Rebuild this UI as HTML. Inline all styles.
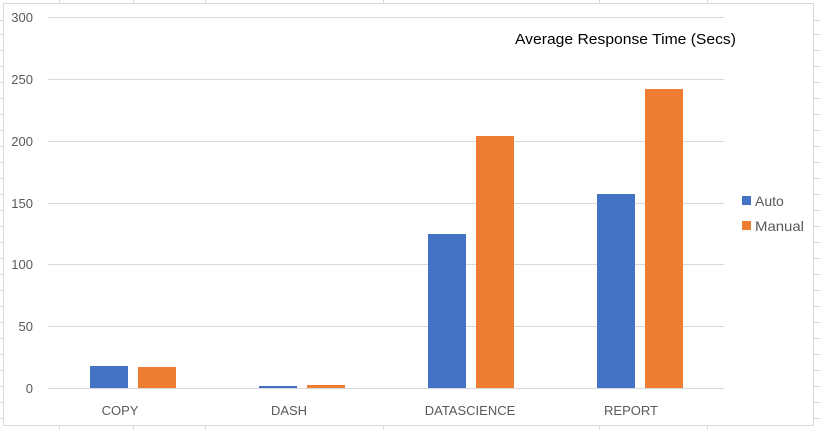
<!DOCTYPE html>
<html><head><meta charset="utf-8"><style>
html,body{margin:0;padding:0;background:#fff;}
svg{display:block;font-family:"Liberation Sans",sans-serif;}
</style></head><body>
<svg width="820" height="430" viewBox="0 0 820 430">
<rect width="820" height="430" fill="#fff"/>
<g stroke="#d9d9d9" stroke-width="1">
<line x1="59.5" y1="0" x2="59.5" y2="430"/><line x1="133.5" y1="0" x2="133.5" y2="430"/>
<line x1="205.5" y1="0" x2="205.5" y2="430"/><line x1="383.5" y1="0" x2="383.5" y2="430"/>
<line x1="599.5" y1="0" x2="599.5" y2="430"/><line x1="707.5" y1="0" x2="707.5" y2="430"/>
<line x1="0" y1="20.5" x2="820" y2="20.5"/><line x1="0" y1="34.5" x2="820" y2="34.5"/>
<line x1="0" y1="50.5" x2="820" y2="50.5"/><line x1="0" y1="66.5" x2="820" y2="66.5"/>
<line x1="0" y1="82.5" x2="820" y2="82.5"/><line x1="0" y1="98.5" x2="820" y2="98.5"/>
<line x1="0" y1="114.5" x2="820" y2="114.5"/><line x1="0" y1="130.5" x2="820" y2="130.5"/>
<line x1="0" y1="146.5" x2="820" y2="146.5"/><line x1="0" y1="162.5" x2="820" y2="162.5"/>
<line x1="0" y1="178.5" x2="820" y2="178.5"/><line x1="0" y1="194.5" x2="820" y2="194.5"/>
<line x1="0" y1="210.5" x2="820" y2="210.5"/><line x1="0" y1="226.5" x2="820" y2="226.5"/>
<line x1="0" y1="242.5" x2="820" y2="242.5"/><line x1="0" y1="258.5" x2="820" y2="258.5"/>
<line x1="0" y1="274.5" x2="820" y2="274.5"/><line x1="0" y1="290.5" x2="820" y2="290.5"/>
<line x1="0" y1="306.5" x2="820" y2="306.5"/><line x1="0" y1="322.5" x2="820" y2="322.5"/>
<line x1="0" y1="338.5" x2="820" y2="338.5"/><line x1="0" y1="354.5" x2="820" y2="354.5"/>
<line x1="0" y1="370.5" x2="820" y2="370.5"/><line x1="0" y1="386.5" x2="820" y2="386.5"/>
<line x1="0" y1="402.5" x2="820" y2="402.5"/><line x1="0" y1="418.5" x2="820" y2="418.5"/>
</g>
<rect x="3.5" y="3.5" width="810" height="422" fill="#fff" stroke="#d9d9d9"/>
<g stroke="#d9d9d9" stroke-width="1">
<line x1="48" y1="17.5" x2="724" y2="17.5"/><line x1="48" y1="79.5" x2="724" y2="79.5"/>
<line x1="48" y1="141.5" x2="724" y2="141.5"/><line x1="48" y1="203.5" x2="724" y2="203.5"/>
<line x1="48" y1="264.5" x2="724" y2="264.5"/><line x1="48" y1="326.5" x2="724" y2="326.5"/>
<line x1="48" y1="388.5" x2="724" y2="388.5"/>
</g>
<g fill="#595959" font-size="13" text-anchor="end">
<text x="33" y="22">300</text><text x="33" y="84">250</text><text x="33" y="146">200</text>
<text x="33" y="208">150</text><text x="33" y="269">100</text><text x="33" y="331">50</text>
<text x="33" y="393">0</text>
</g>
<g fill="#4472c4">
<rect x="90" y="366" width="38" height="22"/><rect x="259" y="386" width="38" height="2"/>
<rect x="428" y="234" width="38" height="154"/><rect x="597" y="194" width="38" height="194"/>
</g>
<g fill="#ed7d31">
<rect x="138" y="367" width="38" height="21"/><rect x="307" y="385" width="38" height="3"/>
<rect x="476" y="136" width="38" height="252"/><rect x="645" y="89" width="38" height="299"/>
</g>
<g fill="#595959" font-size="13" text-anchor="middle">
<text x="120" y="415">COPY</text><text x="289" y="415">DASH</text>
<text x="470" y="415">DATASCIENCE</text><text x="631" y="415">REPORT</text>
</g>
<text x="515" y="44" font-size="15" fill="#000" textLength="221" lengthAdjust="spacingAndGlyphs">Average Response Time (Secs)</text>
<rect x="742" y="196" width="9" height="9" fill="#4472c4"/>
<rect x="742" y="221" width="9" height="9" fill="#ed7d31"/>
<g fill="#595959" font-size="14"><text x="755" y="206">Auto</text><text x="755" y="231" textLength="49" lengthAdjust="spacingAndGlyphs">Manual</text></g>
</svg>
</body></html>
